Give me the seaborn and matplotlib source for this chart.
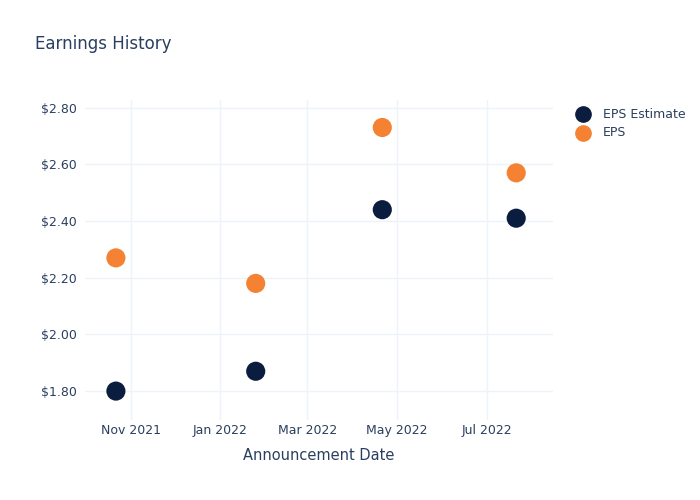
import pandas as pd
import matplotlib
matplotlib.use("Agg")
import matplotlib.pyplot as plt
import matplotlib.dates as mdates
from matplotlib.ticker import FuncFormatter
import seaborn as sns

dates = ["2021-10-22", "2022-01-25", "2022-04-21", "2022-07-21"]
eps_estimate = [1.80, 1.87, 2.44, 2.41]
eps_actual = [2.27, 2.18, 2.73, 2.57]
series = ["EPS Estimate", "EPS"]
colors = ["#0b1d3f", "#f58233"]

df = pd.DataFrame({
    "Announcement Date": pd.to_datetime(dates * 2),
    "Value": eps_estimate + eps_actual,
    "Series": [series[0]] * 4 + [series[1]] * 4,
})

sns.set_style("white")
plt.rcParams["font.family"] = ["DejaVu Sans"]
text_color = "#2a3f5f"
grid_color = "#eef2f9"

fig = plt.figure(figsize=(7, 5), dpi=100)
ax = fig.add_axes([85 / 700, 0.16, (553 - 85) / 700, 0.64])

sns.scatterplot(data=df, x="Announcement Date", y="Value", hue="Series",
                hue_order=series, palette=colors, s=190, linewidth=0,
                ax=ax, legend=False, zorder=3)

ax.set_xlim(pd.Timestamp("2021-10-01"), pd.Timestamp("2022-08-15"))
ax.set_ylim(1.698, 2.827)
ax.set_yticks([1.8, 2.0, 2.2, 2.4, 2.6, 2.8])
ax.yaxis.set_major_formatter(FuncFormatter(lambda v, p: f"${v:.2f}"))
ax.xaxis.set_major_locator(mdates.MonthLocator(bymonth=[1, 3, 5, 7, 9, 11]))
ax.xaxis.set_major_formatter(mdates.DateFormatter("%b %Y"))

ax.grid(True, color=grid_color, linewidth=1)
ax.set_axisbelow(True)
for sp in ax.spines.values():
    sp.set_visible(False)
ax.tick_params(axis="both", length=0, labelsize=9, colors=text_color)
ax.tick_params(axis="x", pad=3)
ax.tick_params(axis="y", pad=6)
ax.set_xlabel("Announcement Date", fontsize=10.5, color=text_color, labelpad=8)
ax.set_ylabel("")

fig.text(35 / 700, 1 - 44 / 500, "Earnings History", fontsize=12,
         color=text_color, va="center", ha="left")

# legend
for i, (name, c) in enumerate(zip(series, colors)):
    y = 1 - (114 + 19 * i) / 500
    fig.lines.append(plt.Line2D([583 / 700], [y], marker="o", markersize=11,
                                color=c, linestyle="none",
                                transform=fig.transFigure))
    fig.text(603 / 700, y, name, fontsize=9, color=text_color,
             va="center", ha="left")

fig.savefig("out.png", dpi=100)
